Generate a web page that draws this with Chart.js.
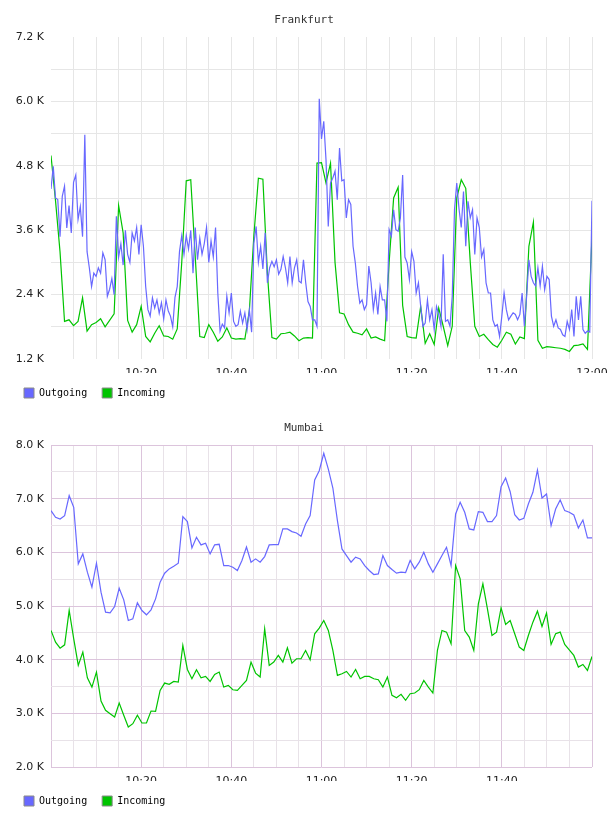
<!DOCTYPE html>
<html>
<head>
<meta charset="utf-8">
<title>Traffic</title>
<script src="https://cdn.jsdelivr.net/npm/chart.js@4.4.1/dist/chart.umd.min.js"></script>
<style>
    html, body { margin: 0; padding: 0; background: #fff; }
    .box { position: relative; width: 608px; height: 408px; }
</style>
</head>
<body>
<div class="box"><canvas id="frankfurtChart"></canvas></div>
<div class="box"><canvas id="mumbaiChart"></canvas></div>

<script>
// --- Data (values in bytes/s, time in minutes after 10:00) ---
const startHour = 10;

// Frankfurt: outgoing sampled every 30 s, incoming every minute
const frankfurtOutStep = 0.5;
const frankfurtOutgoing = [
    4370, 4790, 4200, 4170, 3480, 4230, 4420, 3640, 4060, 3550,
    4490, 4630, 3800, 4040, 3480, 5380, 3200, 2900, 2550, 2800,
    2740, 2900, 2800, 3180, 3050, 2370, 2500, 2700, 2400, 3860,
    3100, 3350, 2950, 3600, 3150, 3000, 3550, 3400, 3650, 3150,
    3700, 3300, 2550, 2120, 2000, 2340, 2150, 2300, 2050, 2250,
    1950, 2300, 2100, 2000, 1800, 2350, 2550, 3200, 3500, 3150,
    3500, 3250, 3600, 2800, 3650, 3050, 3450, 3150, 3350, 3650,
    3000, 3400, 3100, 3650, 2430, 1720, 1850, 1780, 2370, 2060,
    2430, 1900, 1810, 1840, 2090, 1870, 2060, 1750, 2120, 1700,
    3360, 3670, 3000, 3300, 2880, 3550, 2620, 2900, 3020, 2920,
    3050, 2780, 2870, 3110, 2900, 2620, 3110, 2620, 2900, 3050,
    2650, 2620, 3050, 2620, 2270, 2180, 1930, 1930, 1810, 6050,
    5300, 5630, 4910, 3670, 4480, 4570, 4700, 4170, 5130, 4520,
    4540, 3830, 4170, 4080, 3300, 2990, 2550, 2240, 2300, 2120,
    2210, 2930, 2620, 2120, 2430, 2030, 2550, 2300, 2300, 1900,
    3610, 3490, 3980, 3610, 3580, 3830, 4630, 3100, 2990, 2680,
    3200, 3020, 2430, 2620, 2180, 1810, 1870, 2300, 1930, 2120,
    1750, 2180, 2030, 1810, 3150, 1900, 1930, 1810, 2370, 3980,
    4480, 4000, 3650, 4320, 3300, 4140, 3830, 3980, 3150, 3830,
    3650, 3100, 3240, 2620, 2430, 2430, 1930, 1810, 1840, 1620,
    2000, 2430, 2120, 1930, 2000, 2060, 2030, 1930, 2030, 2430,
    1810, 2370, 3050, 2740, 2620, 2560, 2900, 2560, 2930, 2490,
    2740, 2680, 2000, 1810, 1930, 1780, 1750, 1650, 1620, 1900,
    1750, 2120, 1620, 2370, 1930, 2370, 1750, 1680, 1720, 1700,
    4150
];
const frankfurtInStep = 1;
const frankfurtIncoming = [
    4990, 4150, 3200, 1900, 1930, 1820, 1900, 2340, 1720, 1840,
    1880, 1950, 1800, 1920, 2040, 4060, 3550, 1920, 1700, 1840,
    2180, 1620, 1520, 1680, 1820, 1630, 1620, 1570, 1760, 3000,
    4520, 4540, 3100, 1620, 1600, 1840, 1700, 1530, 1610, 1780,
    1590, 1570, 1580, 1570, 2100, 3500, 4570, 4550, 2800, 1600,
    1570, 1670, 1680, 1700, 1630, 1540, 1590, 1600, 1590, 4850,
    4860, 4480, 4850, 3000, 2060, 2040, 1840, 1700, 1680, 1650,
    1760, 1590, 1610, 1570, 1540, 3000, 4200, 4400, 2200, 1620,
    1600, 1590, 2180, 1490, 1670, 1470, 2150, 1810, 1450, 1810,
    4200, 4540, 4380, 3000, 1810, 1620, 1660, 1560, 1470, 1420,
    1550, 1700, 1660, 1480, 1610, 1580, 3300, 3750, 1550, 1400,
    1430, 1420, 1410, 1400, 1380, 1340, 1450, 1460, 1480, 1380,
    3500
];

// Mumbai: one sample per ~minute, 120 samples across 10:00 - 12:00
const mumbaiStep = 120 / 119;
const mumbaiOutgoing = [
    6777, 6653, 6622, 6684, 7056, 6839, 5785, 5971, 5630, 5351,
    5797, 5257, 4885, 4873, 4991, 5332, 5115, 4730, 4761, 5059,
    4916, 4836, 4929, 5133, 5444, 5611, 5692, 5740, 5797, 6665,
    6572, 6082, 6281, 6138, 6169, 5971, 6140, 6150, 5754, 5754,
    5723, 5661, 5847, 6100, 5816, 5878, 5816, 5921, 6138, 6144,
    6144, 6436, 6436, 6386, 6361, 6299, 6529, 6684, 7348, 7521,
    7844, 7552, 7199, 6591, 6063, 5940, 5816, 5909, 5878, 5754,
    5661, 5586, 5599, 5940, 5754, 5680, 5611, 5630, 5624, 5847,
    5692, 5816, 6002, 5785, 5630, 5785, 5940, 6094, 5754, 6715,
    6932, 6746, 6436, 6417, 6758, 6746, 6572, 6572, 6684, 7223,
    7385, 7130, 6702, 6603, 6634, 6901, 7118, 7534, 7012, 7087,
    6498, 6808, 6975, 6777, 6746, 6696, 6454, 6603, 6268, 6268
];
const mumbaiIncoming = [
    4544, 4327, 4215, 4277, 4916, 4389, 3893, 4141, 3663, 3489,
    3769, 3229, 3056, 2994, 2932, 3192, 2963, 2745, 2807, 2963,
    2820, 2820, 3043, 3037, 3428, 3564, 3540, 3595, 3582, 4265,
    3818, 3645, 3812, 3663, 3688, 3595, 3725, 3769, 3489, 3520,
    3440, 3427, 3520, 3614, 3955, 3750, 3676, 4575, 3893, 3955,
    4079, 3955, 4221, 3936, 4017, 4017, 4172, 3998, 4482, 4587,
    4730, 4544, 4172, 3707, 3738, 3781, 3676, 3818, 3645, 3688,
    3688, 3645, 3626, 3489, 3676, 3335, 3291, 3353, 3242, 3366,
    3378, 3440, 3614, 3490, 3378, 4172, 4544, 4513, 4296, 5754,
    5506, 4544, 4420, 4172, 5040, 5413, 4947, 4451, 4513, 4966,
    4656, 4730, 4482, 4234, 4172, 4451, 4699, 4904, 4618, 4867,
    4284, 4482, 4513, 4284, 4184, 4079, 3862, 3911, 3800, 4060
];

const seriesLabels = ['Outgoing', 'Incoming'];
const seriesColors = ['#6868ff', '#00c400'];

// --- Helpers ---
function toPoints(values, step) {
    return values.map((v, i) => ({ x: i * step, y: v }));
}

function timeLabel(min) {
    const h = startHour + Math.floor(min / 60);
    const m = Math.round(min % 60);
    return h + ':' + String(m).padStart(2, '0');
}

function kLabel(v) {
    return (v / 1000).toFixed(1) + ' K';
}

// title drawn centred on the whole canvas
const centerTitle = {
    id: 'centerTitle',
    afterDraw(chart, args, opts) {
        const ctx = chart.ctx;
        ctx.save();
        ctx.font = '11px "DejaVu Sans Mono"';
        ctx.fillStyle = '#333';
        ctx.textAlign = 'center';
        ctx.textBaseline = 'middle';
        ctx.fillText(opts.text, chart.width / 2, 20);
        ctx.restore();
    }
};

Chart.defaults.font.family = '"DejaVu Sans", Verdana, sans-serif';
Chart.defaults.font.size = 11;
Chart.defaults.color = '#222';

function makeChart(id, cfg) {
    const ctx = document.getElementById(id);
    return new Chart(ctx, {
        type: 'line',
        data: {
            datasets: [
                { label: seriesLabels[0], data: cfg.outgoing, borderColor: seriesColors[0], backgroundColor: seriesColors[0] },
                { label: seriesLabels[1], data: cfg.incoming, borderColor: seriesColors[1], backgroundColor: seriesColors[1] }
            ]
        },
        options: {
            responsive: true,
            maintainAspectRatio: false,
            animation: false,
            events: [],
            layout: { padding: { left: 9, right: 16, top: 37, bottom: 0 } },
            elements: {
                point: { radius: 0 },
                line: { borderWidth: 1.2, tension: 0, fill: false }
            },
            scales: {
                x: {
                    type: 'linear',
                    min: 0,
                    max: 120,
                    border: { display: false },
                    grid: { drawTicks: false, color: c => cfg.xGrid(c.tick.value) },
                    ticks: {
                        stepSize: 5,
                        autoSkip: false,
                        maxRotation: 0,
                        padding: 8,
                        callback: v => (v % 20 === 0 && v > 0 && (cfg.endLabel || v < 120)) ? timeLabel(v) : ''
                    },
                    // fixed height, and let the last label hang into the right margin
                    afterFit: s => { s.height = 14; s.paddingLeft = 0; s.paddingRight = 0; }
                },
                y: {
                    min: cfg.yMin,
                    max: cfg.yMax,
                    border: { display: false },
                    grid: { drawTicks: false, color: c => cfg.yGrid(c.tick.value) },
                    ticks: {
                        stepSize: cfg.yStep,
                        padding: 7,
                        callback: v => (v % cfg.yLabelEvery === 0) ? kLabel(v) : ''
                    },
                    afterFit: s => { s.width = 42; }
                }
            },
            plugins: {
                centerTitle: { text: cfg.title },
                tooltip: { enabled: false },
                legend: {
                    position: 'bottom',
                    align: 'start',
                    labels: {
                        boxWidth: 10,
                        boxHeight: 10,
                        padding: 15,
                        color: '#000',
                        font: { family: '"DejaVu Sans Mono", monospace', size: 10 },
                        generateLabels: chart => chart.data.datasets.map((ds, i) => ({
                            text: ds.label,
                            fillStyle: ds.borderColor,
                            strokeStyle: '#8a8a8a',
                            lineWidth: 1,
                            hidden: false,
                            datasetIndex: i
                        }))
                    }
                }
            }
        },
        plugins: [centerTitle]
    });
}

// --- Frankfurt: plain grey grid, no frame ---
const greyGrid = '#e6e6e6';
makeChart('frankfurtChart', {
    title: 'Frankfurt',
    outgoing: toPoints(frankfurtOutgoing, frankfurtOutStep),
    incoming: toPoints(frankfurtIncoming, frankfurtInStep),
    yMin: 1200, yMax: 7200, yStep: 600, yLabelEvery: 1200,
    endLabel: true,
    xGrid: v => v === 0 ? 'rgba(0,0,0,0)' : greyGrid,
    yGrid: v => (v === 1200 || v === 7200) ? 'rgba(0,0,0,0)' : greyGrid
});

// --- Mumbai: purple major lines and frame ---
const majorGrid = '#dcc4dc';
const minorGrid = '#e8e2e8';
makeChart('mumbaiChart', {
    title: 'Mumbai',
    outgoing: toPoints(mumbaiOutgoing, mumbaiStep),
    incoming: toPoints(mumbaiIncoming, mumbaiStep),
    yMin: 2000, yMax: 8000, yStep: 500, yLabelEvery: 1000,
    endLabel: false,
    xGrid: v => (v % 20 === 0) ? majorGrid : minorGrid,
    yGrid: v => (v % 1000 === 0) ? majorGrid : minorGrid
});
</script>
</body>
</html>
